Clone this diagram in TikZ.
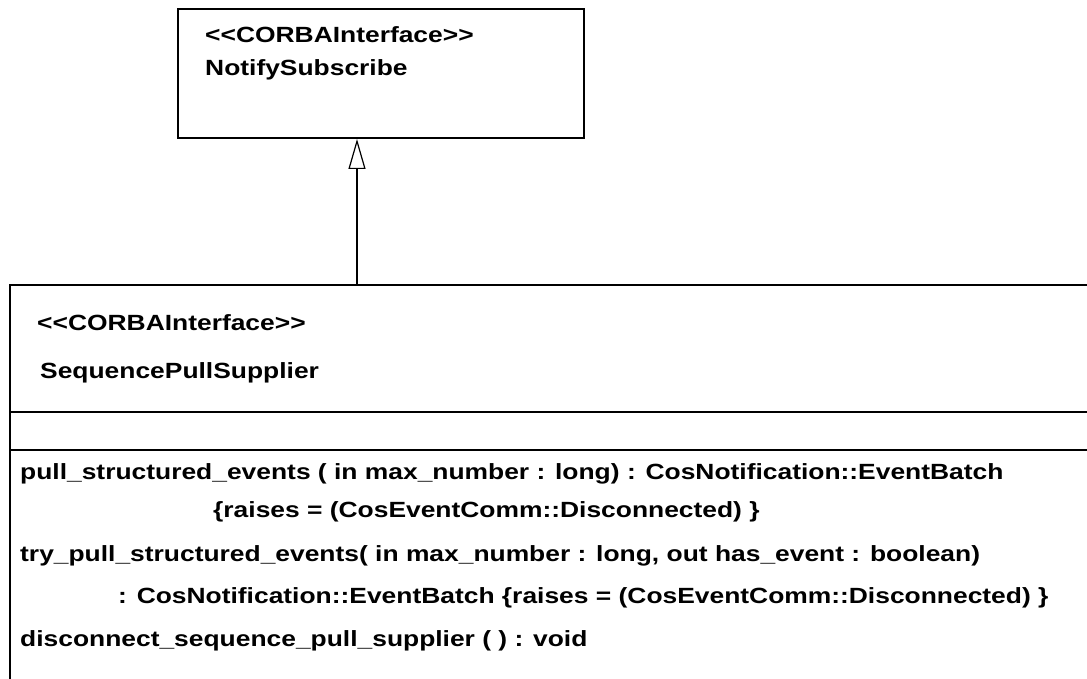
\documentclass[tikz,border=0pt]{standalone}
\usepackage{fontspec}
\setmainfont[FakeStretch=1.2]{Liberation Sans}
\usetikzlibrary{arrows.meta}
\begin{document}
\begin{tikzpicture}[x=1pt,y=-1pt,
  boxline/.style={line width=2pt},
  lbl/.style={anchor=base west,inner sep=0pt,font=\fontsize{22}{26}\selectfont\bfseries},
  realize/.style={line width=2pt,-{Triangle[open,length=30pt,width=17pt,line width=1.2pt]}}]
\useasboundingbox (0,0) rectangle (1087,679);
% superinterface
\node[boxline,draw,minimum width=406pt,minimum height=129pt,inner sep=0pt,anchor=north west] (sup) at (177,8) {};
\node[lbl] (supst) at (205,43) {<{}<CORBAInterface>{}>};
\node[lbl] (supname) at (205,76) {NotifySubscribe};
% subinterface (cut off at right and bottom)
\coordinate (subtl) at (10,285);
\coordinate (subtr) at (1090,285);
\coordinate (subbl) at (10,682);
\coordinate (subtop) at (357,285);
\draw[boxline] (subbl) -- (subtl) -- (subtr);
\coordinate (s1l) at (10,412); \coordinate (s1r) at (1090,412);
\coordinate (s2l) at (10,450); \coordinate (s2r) at (1090,450);
\draw[boxline] (s1l) -- (s1r);
\draw[boxline] (s2l) -- (s2r);
\node[lbl] (subst) at (37,330) {<{}<CORBAInterface>{}>};
\node[lbl] (subname) at (40,378) {SequencePullSupplier};
\node[lbl] (op1) at (20,479) {pull\_structured\_events ( in max\_number : long) : CosNotification::EventBatch};
\node[lbl] (op1b) at (213,517) {\{raises = (CosEventComm::Disconnected) \}};
\node[lbl] (op2) at (20,561) {try\_pull\_structured\_events( in max\_number : long, out has\_event : boolean)};
\node[lbl] (op2b) at (118,603) {: CosNotification::EventBatch \{raises = (CosEventComm::Disconnected) \}};
\node[lbl] (op3) at (20,646) {disconnect\_sequence\_pull\_supplier ( ) : void};
% realization
\draw[realize] (subtop) -- (subtop |- sup.south);
\end{tikzpicture}
\end{document}
